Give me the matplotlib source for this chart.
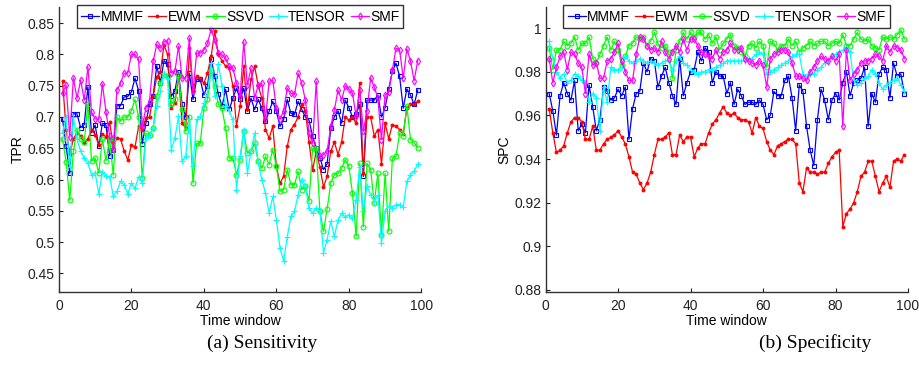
import numpy as np
import matplotlib
matplotlib.use('Agg')
import matplotlib.pyplot as plt
from matplotlib.ticker import FormatStrFormatter

plt.rcParams['font.family'] = ['Liberation Sans', 'DejaVu Sans']

# Time windows
t = np.arange(1, 100)

# --- (a) Sensitivity (TPR) ---
tpr_mmmf = [0.697, 0.653, 0.61, 0.705, 0.705, 0.683, 0.688, 0.748, 0.675, 0.687,
            0.653, 0.69, 0.687, 0.638, 0.648, 0.718, 0.718, 0.732, 0.733, 0.74,
            0.762, 0.742, 0.657, 0.69, 0.72, 0.733, 0.782, 0.755, 0.79, 0.785,
            0.733, 0.742, 0.772, 0.72, 0.70, 0.77, 0.728, 0.76, 0.76, 0.735,
            0.75, 0.793, 0.765, 0.736, 0.717, 0.744, 0.712, 0.73, 0.746, 0.728,
            0.746, 0.709, 0.73, 0.712, 0.728, 0.714, 0.693, 0.709, 0.725, 0.709,
            0.685, 0.696, 0.728, 0.706, 0.704, 0.725, 0.712, 0.70, 0.695, 0.669,
            0.65, 0.635, 0.616, 0.625, 0.682, 0.70, 0.71, 0.69, 0.727, 0.715,
            0.70, 0.705, 0.72, 0.605, 0.727, 0.727, 0.727, 0.735, 0.70, 0.715,
            0.745, 0.773, 0.786, 0.765, 0.714, 0.745, 0.735, 0.72, 0.743]
tpr_ewm = [0.758, 0.68, 0.641, 0.665, 0.675, 0.67, 0.658, 0.665, 0.68, 0.672,
           0.655, 0.673, 0.668, 0.692, 0.653, 0.667, 0.665, 0.646, 0.631, 0.655,
           0.652, 0.685, 0.68, 0.698, 0.70, 0.733, 0.764, 0.772, 0.815, 0.80,
           0.714, 0.722, 0.767, 0.69, 0.682, 0.81, 0.741, 0.765, 0.762, 0.754,
           0.77, 0.797, 0.837, 0.80, 0.79, 0.781, 0.778, 0.75, 0.686, 0.717,
           0.781, 0.712, 0.76, 0.781, 0.75, 0.73, 0.68, 0.666, 0.685, 0.621,
           0.594, 0.605, 0.653, 0.68, 0.688, 0.70, 0.72, 0.71, 0.66, 0.615,
           0.645, 0.62, 0.588, 0.605, 0.645, 0.66, 0.64, 0.66, 0.70, 0.695,
           0.70, 0.69, 0.755, 0.61, 0.70, 0.70, 0.67, 0.68, 0.625, 0.69,
           0.665, 0.688, 0.685, 0.68, 0.673, 0.715, 0.72, 0.72, 0.725]
tpr_ssvd = [0.665, 0.628, 0.567, 0.645, 0.68, 0.665, 0.66, 0.721, 0.63, 0.634,
            0.61, 0.665, 0.63, 0.665, 0.607, 0.70, 0.693, 0.70, 0.70, 0.71,
            0.728, 0.70, 0.602, 0.674, 0.672, 0.682, 0.733, 0.754, 0.767, 0.765,
            0.72, 0.728, 0.767, 0.712, 0.677, 0.70, 0.594, 0.658, 0.658, 0.714,
            0.728, 0.775, 0.749, 0.72, 0.714, 0.682, 0.634, 0.634, 0.608, 0.632,
            0.677, 0.642, 0.645, 0.658, 0.629, 0.618, 0.637, 0.624, 0.648, 0.621,
            0.581, 0.584, 0.616, 0.592, 0.592, 0.613, 0.584, 0.59, 0.565, 0.65,
            0.65, 0.55, 0.517, 0.553, 0.594, 0.608, 0.61, 0.618, 0.632, 0.621,
            0.578, 0.509, 0.626, 0.524, 0.626, 0.616, 0.562, 0.61, 0.512, 0.61,
            0.517, 0.634, 0.637, 0.674, 0.67, 0.718, 0.664, 0.659, 0.651]
tpr_tensor = [0.675, 0.70, 0.62, 0.70, 0.665, 0.645, 0.634, 0.626, 0.608, 0.611,
              0.577, 0.612, 0.605, 0.604, 0.574, 0.581, 0.597, 0.592, 0.577, 0.594,
              0.586, 0.604, 0.594, 0.666, 0.672, 0.682, 0.717, 0.741, 0.77, 0.76,
              0.648, 0.666, 0.701, 0.629, 0.637, 0.696, 0.621, 0.696, 0.701, 0.722,
              0.738, 0.786, 0.733, 0.784, 0.749, 0.717, 0.709, 0.696, 0.584, 0.637,
              0.68, 0.61, 0.645, 0.674, 0.626, 0.60, 0.578, 0.546, 0.573, 0.536,
              0.49, 0.47, 0.508, 0.541, 0.549, 0.576, 0.60, 0.59, 0.554, 0.546,
              0.554, 0.55, 0.483, 0.504, 0.533, 0.509, 0.535, 0.546, 0.54, 0.544,
              0.538, 0.568, 0.62, 0.55, 0.59, 0.575, 0.565, 0.575, 0.498, 0.55,
              0.557, 0.555, 0.56, 0.56, 0.556, 0.597, 0.608, 0.613, 0.625]
tpr_smf = [0.738, 0.751, 0.668, 0.762, 0.73, 0.759, 0.727, 0.78, 0.708, 0.697,
           0.696, 0.753, 0.708, 0.67, 0.649, 0.743, 0.754, 0.77, 0.77, 0.80,
           0.80, 0.792, 0.685, 0.714, 0.725, 0.789, 0.816, 0.81, 0.82, 0.822,
           0.77, 0.773, 0.813, 0.762, 0.762, 0.826, 0.741, 0.802, 0.802, 0.807,
           0.818, 0.84, 0.823, 0.802, 0.80, 0.794, 0.781, 0.778, 0.754, 0.733,
           0.82, 0.751, 0.778, 0.73, 0.751, 0.754, 0.696, 0.757, 0.759, 0.714,
           0.696, 0.71, 0.746, 0.738, 0.736, 0.77, 0.754, 0.727, 0.674, 0.658,
           0.757, 0.637, 0.64, 0.645, 0.685, 0.711, 0.743, 0.727, 0.75, 0.745,
           0.738, 0.701, 0.743, 0.677, 0.71, 0.762, 0.748, 0.73, 0.664, 0.735,
           0.74, 0.775, 0.81, 0.807, 0.762, 0.809, 0.79, 0.758, 0.79]

# --- (b) Specificity (SPC) ---
spc_mmmf = [0.970, 0.962, 0.951, 0.969, 0.975, 0.970, 0.967, 0.976, 0.953, 0.956,
            0.952, 0.974, 0.964, 0.953, 0.958, 0.973, 0.971, 0.967, 0.968, 0.972,
            0.969, 0.973, 0.949, 0.963, 0.970, 0.971, 0.984, 0.980, 0.986, 0.985,
            0.973, 0.978, 0.982, 0.975, 0.969, 0.965, 0.986, 0.969, 0.975, 0.980,
            0.981, 0.989, 0.985, 0.991, 0.989, 0.975, 0.980, 0.978, 0.978, 0.970,
            0.975, 0.965, 0.972, 0.969, 0.965, 0.966, 0.966, 0.965, 0.967, 0.965,
            0.958, 0.960, 0.971, 0.969, 0.969, 0.976, 0.978, 0.968, 0.953, 0.974,
            0.971, 0.955, 0.944, 0.937, 0.958, 0.972, 0.967, 0.958, 0.967, 0.970,
            0.967, 0.975, 0.980, 0.969, 0.975, 0.976, 0.977, 0.982, 0.955, 0.970,
            0.966, 0.979, 0.982, 0.981, 0.968, 0.984, 0.978, 0.979, 0.970]
spc_ewm = [0.963, 0.952, 0.943, 0.944, 0.946, 0.952, 0.957, 0.959, 0.959, 0.957,
           0.949, 0.949, 0.955, 0.944, 0.944, 0.947, 0.949, 0.950, 0.951, 0.953,
           0.950, 0.947, 0.941, 0.934, 0.933, 0.929, 0.926, 0.929, 0.934, 0.942,
           0.949, 0.949, 0.950, 0.952, 0.942, 0.942, 0.951, 0.948, 0.950, 0.950,
           0.941, 0.945, 0.947, 0.947, 0.952, 0.956, 0.958, 0.961, 0.964, 0.961,
           0.960, 0.961, 0.959, 0.958, 0.958, 0.957, 0.952, 0.959, 0.955, 0.954,
           0.948, 0.944, 0.942, 0.946, 0.947, 0.948, 0.949, 0.949, 0.947, 0.929,
           0.925, 0.936, 0.934, 0.934, 0.933, 0.934, 0.934, 0.938, 0.941, 0.943,
           0.944, 0.909, 0.915, 0.917, 0.920, 0.925, 0.932, 0.934, 0.939, 0.939,
           0.932, 0.925, 0.929, 0.932, 0.927, 0.939, 0.940, 0.939, 0.942]
spc_ssvd = [0.991, 0.981, 0.990, 0.990, 0.994, 0.992, 0.993, 0.996, 0.990, 0.993,
            0.993, 0.996, 0.986, 0.984, 0.988, 0.992, 0.996, 0.990, 0.994, 0.990,
            0.983, 0.987, 0.992, 0.993, 0.996, 0.995, 0.996, 0.992, 0.994, 0.998,
            0.993, 0.991, 0.992, 0.989, 0.977, 0.990, 0.994, 0.998, 0.995, 0.998,
            0.996, 0.998, 0.998, 0.995, 0.997, 0.993, 0.996, 0.990, 0.993, 0.995,
            0.997, 0.992, 0.991, 0.989, 0.987, 0.992, 0.993, 0.991, 0.994, 0.992,
            0.982, 0.994, 0.993, 0.990, 0.992, 0.992, 0.995, 0.992, 0.994, 0.989,
            0.991, 0.992, 0.994, 0.992, 0.993, 0.994, 0.994, 0.992, 0.993, 0.994,
            0.993, 0.997, 0.992, 0.992, 0.995, 0.998, 0.995, 0.994, 0.995, 0.992,
            0.991, 0.990, 0.996, 0.995, 0.996, 0.995, 0.997, 0.999, 0.995]
spc_tensor = [0.994, 0.986, 0.980, 0.977, 0.979, 0.975, 0.976, 0.979, 0.978, 0.976,
              0.975, 0.966, 0.970, 0.968, 0.953, 0.973, 0.966, 0.982, 0.981, 0.981,
              0.982, 0.987, 0.985, 0.984, 0.985, 0.986, 0.985, 0.984, 0.985, 0.984,
              0.983, 0.984, 0.985, 0.985, 0.981, 0.985, 0.987, 0.984, 0.983, 0.981,
              0.980, 0.979, 0.980, 0.980, 0.981, 0.981, 0.982, 0.983, 0.984, 0.985,
              0.985, 0.985, 0.985, 0.985, 0.985, 0.986, 0.986, 0.988, 0.989, 0.988,
              0.979, 0.980, 0.981, 0.982, 0.983, 0.984, 0.985, 0.987, 0.988, 0.988,
              0.979, 0.978, 0.979, 0.979, 0.981, 0.982, 0.984, 0.985, 0.987, 0.988,
              0.989, 0.990, 0.991, 0.989, 0.976, 0.974, 0.975, 0.977, 0.978, 0.981,
              0.979, 0.975, 0.972, 0.974, 0.975, 0.976, 0.977, 0.974, 0.971]
spc_smf = [0.986, 0.975, 0.982, 0.987, 0.989, 0.981, 0.989, 0.988, 0.984, 0.982,
           0.970, 0.988, 0.983, 0.984, 0.977, 0.977, 0.985, 0.986, 0.989, 0.993,
           0.985, 0.980, 0.976, 0.976, 0.988, 0.996, 0.995, 0.992, 0.990, 0.991,
           0.989, 0.994, 0.989, 0.986, 0.989, 0.992, 0.989, 0.995, 0.990, 0.995,
           0.995, 0.992, 0.989, 0.988, 0.987, 0.986, 0.990, 0.986, 0.989, 0.990,
           0.993, 0.990, 0.990, 0.991, 0.986, 0.985, 0.984, 0.983, 0.985, 0.983,
           0.973, 0.986, 0.988, 0.989, 0.990, 0.990, 0.989, 0.984, 0.978, 0.978,
           0.977, 0.976, 0.980, 0.982, 0.985, 0.987, 0.986, 0.985, 0.987, 0.985,
           0.988, 0.955, 0.990, 0.976, 0.979, 0.981, 0.984, 0.985, 0.985, 0.986,
           0.988, 0.987, 0.985, 0.992, 0.989, 0.992, 0.991, 0.990, 0.986]

names = ['MMMF', 'EWM', 'SSVD', 'TENSOR', 'SMF']
colors = ['#0000ff', '#ff0000', '#00ff00', '#00ffff', '#ff00ff']
markers = ['s', '.', 'o', '+', 'd']
msizes = [3, 4, 3.5, 4, 3.5]

fig = plt.figure(figsize=(9.2, 3.66), dpi=100)
ax1 = fig.add_axes([0.064, 0.202, 0.394, 0.779])
ax2 = fig.add_axes([0.593, 0.202, 0.394, 0.779])


def draw(ax, series, ylabel, ylim, yticks):
    for s, name, c, m, ms in zip(series, names, colors, markers, msizes):
        mfc = c if m in ('.', '+') else 'none'
        ax.plot(t, s, color=c, marker=m, markersize=ms, markerfacecolor=mfc,
                markeredgewidth=0.8, linewidth=0.9, label=name)
    ax.set_xlim(0, 100)
    ax.set_ylim(*ylim)
    ax.set_xticks([0, 20, 40, 60, 80, 100])
    ax.set_yticks(yticks)
    ax.yaxis.set_major_formatter(FormatStrFormatter('%g'))
    for side in ('top', 'right'):
        ax.spines[side].set_visible(False)
    for side in ('left', 'bottom'):
        ax.spines[side].set_color('#333333')
        ax.spines[side].set_linewidth(1.0)
    ax.tick_params(direction='in', length=3, labelsize=10, colors='#222222')
    ax.tick_params(axis='x', pad=5)
    ax.tick_params(axis='y', pad=3)
    ax.set_xlabel('Time window', fontsize=10, labelpad=0.5)
    ax.set_ylabel(ylabel, fontsize=10, labelpad=2)
    leg = ax.legend(loc='upper center', bbox_to_anchor=(0.5, 1.015), ncol=5,
                    fontsize=10, frameon=True, fancybox=False, handlelength=1.3,
                    handletextpad=0.1, columnspacing=0.35, borderpad=0.3,
                    borderaxespad=0.2)
    leg.get_frame().set_edgecolor('black')
    leg.get_frame().set_linewidth(1.0)


draw(ax1, [tpr_mmmf, tpr_ewm, tpr_ssvd, tpr_tensor, tpr_smf], 'TPR',
     (0.42, 0.876), [0.45, 0.5, 0.55, 0.6, 0.65, 0.7, 0.75, 0.8, 0.85])
draw(ax2, [spc_mmmf, spc_ewm, spc_ssvd, spc_tensor, spc_smf], 'SPC',
     (0.879, 1.0097), [0.88, 0.9, 0.92, 0.94, 0.96, 0.98, 1.0])

fig.text(0.285, 0.063, '(a) Sensitivity', family='Liberation Serif',
         fontsize=14, ha='center', va='center')
fig.text(0.886, 0.063, '(b) Specificity', family='Liberation Serif',
         fontsize=14, ha='center', va='center')

plt.savefig('out.png', dpi=100)
plt.close()
